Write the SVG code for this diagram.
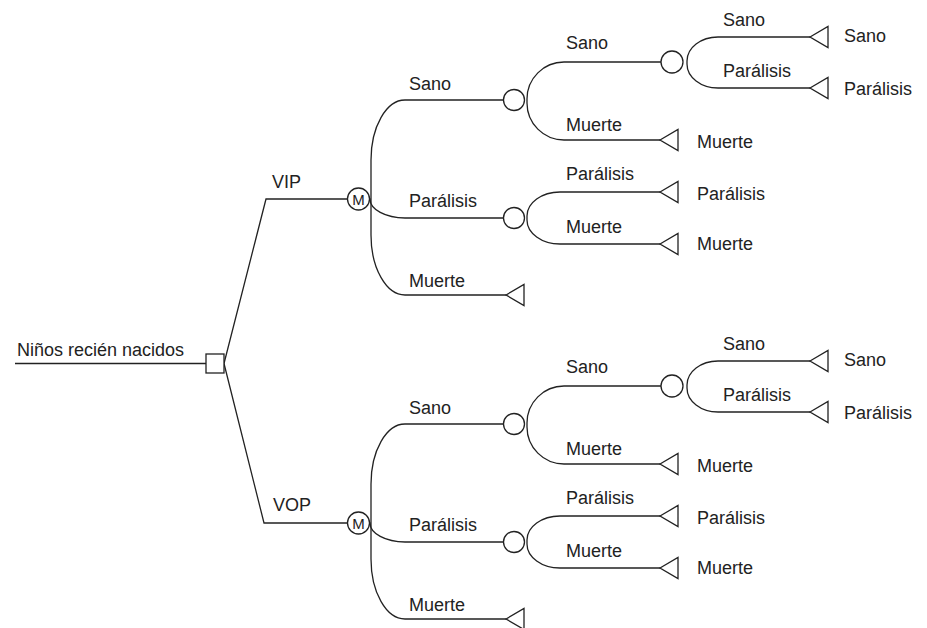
<svg xmlns="http://www.w3.org/2000/svg" xmlns:xlink="http://www.w3.org/1999/xlink" width="927" height="628" viewBox="0 0 927 628">
<style>
.ln{fill:none;stroke:#222;stroke-width:1.3}
.nd{fill:#fff;stroke:#222;stroke-width:1.3}
text{font-family:"Liberation Sans",Arial,Helvetica,sans-serif;font-size:18px;fill:#222}
.m{font-size:15px;text-anchor:middle}
</style>
<defs>
<path id="tri" d="M0,0 L18,-10.5 L18,10.5 Z" class="nd"/>
</defs>
<rect width="927" height="628" fill="#fff"/>

<g id="connectors">
  <path class="ln" d="M15,363.5 H206"/>
  <path class="ln" d="M224,363.5 L266,199 H347.5"/>
  <path class="ln" d="M224,363.5 L264,523 H347.5"/>
  <!-- VIP subtree -->
  <path class="ln" d="M503.5,100 H405 A34,60 0 0 0 371,160 V235 A34,60 0 0 0 405,295 H506"/>
  <path class="ln" d="M369.5,199 H370 A35,19 0 0 0 405,218 H503.5"/>
  <path class="ln" d="M661,62 H564 A37,37 0 0 0 527,99 V103 A37,37 0 0 0 564,140 H660"/>
  <path class="ln" d="M660,192 H560 A33,24 0 0 0 527,216 V220 A33,24 0 0 0 560,244 H660"/>
  <path class="ln" d="M810,37 H718 A31,24 0 0 0 687,61 V64 A31,24 0 0 0 718,88 H810"/>
  <!-- VOP subtree -->
  <g transform="translate(0,324)">
    <path class="ln" d="M503.5,100 H405 A34,60 0 0 0 371,160 V235 A34,60 0 0 0 405,295 H506"/>
    <path class="ln" d="M369.5,199 H370 A35,19 0 0 0 405,218 H503.5"/>
    <path class="ln" d="M661,62 H564 A37,37 0 0 0 527,99 V103 A37,37 0 0 0 564,140 H660"/>
    <path class="ln" d="M660,192 H560 A33,24 0 0 0 527,216 V220 A33,24 0 0 0 560,244 H660"/>
    <path class="ln" d="M810,37 H718 A31,24 0 0 0 687,61 V64 A31,24 0 0 0 718,88 H810"/>
  </g>
</g>

<g id="root">
  <rect class="nd" x="206" y="354" width="18" height="19"/>
  <text x="17" y="356">Niños recién nacidos</text>
</g>

<g id="vip">
  <text x="272" y="188">VIP</text>
  <circle class="nd" cx="358.5" cy="199" r="11"/>
  <text class="m" x="358.5" y="204.5">M</text>
</g>
<g id="vip-sano">
  <text x="409" y="90">Sano</text>
  <circle class="nd" cx="514" cy="100" r="10.5"/>
</g>
<g id="vip-sano-sano">
  <text x="566" y="49">Sano</text>
  <circle class="nd" cx="672" cy="62" r="11"/>
</g>
<g id="vip-sano-sano-sano">
  <text x="723" y="26">Sano</text>
  <use xlink:href="#tri" x="810" y="37"/>
  <text x="844" y="42">Sano</text>
</g>
<g id="vip-sano-sano-paralisis">
  <text x="723" y="77">Parálisis</text>
  <use xlink:href="#tri" x="810" y="88"/>
  <text x="844" y="95">Parálisis</text>
</g>
<g id="vip-sano-muerte">
  <text x="566" y="131">Muerte</text>
  <use xlink:href="#tri" x="660" y="140"/>
  <text x="697" y="148">Muerte</text>
</g>
<g id="vip-paralisis">
  <text x="409" y="207">Parálisis</text>
  <circle class="nd" cx="514" cy="218" r="10.5"/>
</g>
<g id="vip-paralisis-paralisis">
  <text x="566" y="180">Parálisis</text>
  <use xlink:href="#tri" x="660" y="192"/>
  <text x="697" y="200">Parálisis</text>
</g>
<g id="vip-paralisis-muerte">
  <text x="566" y="233">Muerte</text>
  <use xlink:href="#tri" x="660" y="244"/>
  <text x="697" y="250">Muerte</text>
</g>
<g id="vip-muerte">
  <text x="409" y="287">Muerte</text>
  <use xlink:href="#tri" x="506" y="295"/>
</g>

<g id="vop">
  <text x="273" y="511">VOP</text>
  <circle class="nd" cx="358.5" cy="523" r="11"/>
  <text class="m" x="358.5" y="528.5">M</text>
</g>
<g id="vop-sano">
  <text x="409" y="414">Sano</text>
  <circle class="nd" cx="514" cy="424" r="10.5"/>
</g>
<g id="vop-sano-sano">
  <text x="566" y="373">Sano</text>
  <circle class="nd" cx="672" cy="386" r="11"/>
</g>
<g id="vop-sano-sano-sano">
  <text x="723" y="350">Sano</text>
  <use xlink:href="#tri" x="810" y="361"/>
  <text x="844" y="366">Sano</text>
</g>
<g id="vop-sano-sano-paralisis">
  <text x="723" y="401">Parálisis</text>
  <use xlink:href="#tri" x="810" y="412"/>
  <text x="844" y="419">Parálisis</text>
</g>
<g id="vop-sano-muerte">
  <text x="566" y="455">Muerte</text>
  <use xlink:href="#tri" x="660" y="464"/>
  <text x="697" y="472">Muerte</text>
</g>
<g id="vop-paralisis">
  <text x="409" y="531">Parálisis</text>
  <circle class="nd" cx="514" cy="542" r="10.5"/>
</g>
<g id="vop-paralisis-paralisis">
  <text x="566" y="504">Parálisis</text>
  <use xlink:href="#tri" x="660" y="516"/>
  <text x="697" y="524">Parálisis</text>
</g>
<g id="vop-paralisis-muerte">
  <text x="566" y="557">Muerte</text>
  <use xlink:href="#tri" x="660" y="568"/>
  <text x="697" y="574">Muerte</text>
</g>
<g id="vop-muerte">
  <text x="409" y="611">Muerte</text>
  <use xlink:href="#tri" x="506" y="619"/>
</g>
</svg>
